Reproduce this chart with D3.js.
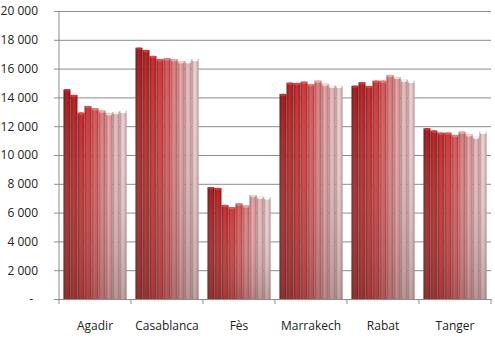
<!DOCTYPE html>
<html><head><meta charset="utf-8">
<script src="https://cdn.jsdelivr.net/npm/d3@7"></script>
<style>
html,body{margin:0;padding:0;background:#fff;}
text{font-family:"Open Sans","DejaVu Sans",sans-serif;fill:#222;}
</style></head>
<body><svg id="c" width="495" height="345"></svg>
<script>
const categories = ["Agadir","Casablanca","Fès","Marrakech","Rabat","Tanger"];
const series = ["S1","S2","S3","S4","S5","S6","S7","S8","S9"];
const agadir     = [14560,14170,12940,13400,13240,13080,12900,12990,13060];
const casablanca = [17450,17290,16880,16650,16710,16650,16510,16510,16670];
const fes        = [7760,7710,6530,6370,6640,6500,7220,7100,7060];
const marrakech  = [14240,15020,15000,15090,14930,15160,14950,14810,14810];
const rabat      = [14810,15050,14790,15160,15160,15560,15420,15230,15140];
const tanger     = [11850,11690,11550,11550,11390,11620,11440,11270,11620];
const yTicks = [0,2000,4000,6000,8000,10000,12000,14000,16000,18000,20000];
const values = [agadir,casablanca,fes,marrakech,rabat,tanger];

const palette = ["#9e1c1c","#ad2222","#bb2a2a","#c83636","#cf5252","#d47474","#d89696","#dbaeae","#dec0c0"];

const svg = d3.select("#c");
const L=59, R=491, T=11, B=299;
const x0 = d3.scaleBand().domain(categories).range([L,R]).padding(0);
const x1 = d3.scaleBand().domain(series).range([0,x0.bandwidth()]).paddingInner(0).paddingOuter(0.64);
const y = d3.scaleLinear().domain([0,20000]).range([B,T]);

const defs = svg.append("defs");
palette.forEach((c,i)=>{
  const g = defs.append("linearGradient").attr("id","g"+i).attr("x1","0").attr("x2","1").attr("y1","0").attr("y2","0");
  const base = d3.color(c);
  g.append("stop").attr("offset","0%").attr("stop-color",base.darker(0.9));
  g.append("stop").attr("offset","40%").attr("stop-color",base.brighter(0.25));
  g.append("stop").attr("offset","70%").attr("stop-color",base);
  g.append("stop").attr("offset","100%").attr("stop-color",base.darker(0.8));
  const v = defs.append("linearGradient").attr("id","v"+i).attr("x1","0").attr("x2","0").attr("y1","0").attr("y2","1");
  v.append("stop").attr("offset","0%").attr("stop-color","#fff").attr("stop-opacity",0);
  v.append("stop").attr("offset","100%").attr("stop-color","#6a5050").attr("stop-opacity",0.35);
});

// gridlines + y axis
const yAxis = d3.axisLeft(y).tickValues(yTicks).tickSize(-(R-L)).tickPadding(0)
  .tickFormat(d => d===0 ? "-" : d3.format(",")(d).replace(/,/g," "));
const ga = svg.append("g").attr("transform",`translate(${L},0)`).call(yAxis);
ga.select(".domain").remove();
ga.selectAll(".tick line").attr("stroke","#8c8c8c").attr("stroke-width",1).attr("x1",-5);
ga.selectAll(".tick text").attr("x",-21).attr("font-size","12px").attr("fill","#222");
ga.selectAll(".tick").filter(d=>d===0).select("text").attr("x",-26);

// bars
const groups = svg.append("g").selectAll("g").data(categories).join("g")
  .attr("transform",d=>`translate(${x0(d)},0)`);
groups.each(function(cat,ci){
  const g = d3.select(this);
  const vals = values[ci].map((v,i)=>({s:series[i],v,i}));
  g.selectAll("rect.b").data(vals).join("rect").attr("class","b")
    .attr("x",d=>x1(d.s)).attr("width",x1.bandwidth())
    .attr("y",d=>y(d.v)).attr("height",d=>B-y(d.v))
    .attr("fill",d=>`url(#g${d.i})`);
  g.selectAll("rect.s").data(vals).join("rect").attr("class","s")
    .attr("x",d=>x1(d.s)).attr("width",x1.bandwidth())
    .attr("y",d=>y(d.v)).attr("height",d=>B-y(d.v))
    .attr("fill",d=>`url(#v${d.i})`);
  g.selectAll("ellipse").data(vals).join("ellipse")
    .attr("cx",d=>x1(d.s)+x1.bandwidth()/2).attr("cy",d=>y(d.v)+1)
    .attr("rx",x1.bandwidth()/2-0.5).attr("ry",1.3)
    .attr("fill",d=>d3.color(palette[d.i]).brighter(0.9));
});

// x axis
const xAxis = d3.axisBottom(x0).tickSize(0).tickPadding(22);
const gx = svg.append("g").attr("transform",`translate(0,${B})`).call(xAxis);
gx.select(".domain").attr("stroke","#8c8c8c");
gx.selectAll(".tick text").attr("font-size","12px").attr("fill","#222");
gx.selectAll("line.sep").data(d3.range(categories.length+1)).join("line").attr("class","sep")
  .attr("x1",i=>L+i*x0.step()).attr("x2",i=>L+i*x0.step()).attr("y1",0).attr("y2",5)
  .attr("stroke","#8c8c8c");
// y axis line
svg.append("line").attr("x1",L).attr("x2",L).attr("y1",T).attr("y2",B).attr("stroke","#8c8c8c");
</script></body></html>
